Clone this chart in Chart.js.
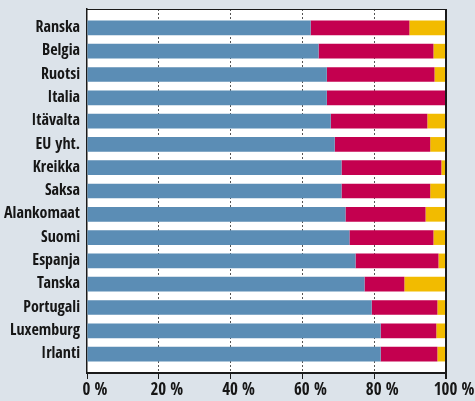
<!DOCTYPE html>
<html>
<head>
<meta charset="utf-8">
<script src="https://cdn.jsdelivr.net/npm/chart.js@4/dist/chart.umd.min.js"></script>
<style>
html,body{margin:0;padding:0;background:#dce3ea;}
#wrap{width:475px;height:401px;}
</style>
</head>
<body>
<div id="wrap"><canvas id="c" width="475" height="401"></canvas></div>
<script>
const categories = ['Ranska','Belgia','Ruotsi','Italia','Itävalta','EU yht.','Kreikka','Saksa','Alankomaat','Suomi','Espanja','Tanska','Portugali','Luxemburg','Irlanti'];
const seriesBlue   = [62.3, 64.5, 66.8, 66.8, 67.9, 69.0, 70.9, 70.9, 72.0, 73.1, 74.8, 77.3, 79.3, 81.8, 81.8];
const seriesRed    = [27.5, 32.0, 30.0, 33.2, 26.9, 26.6, 27.8, 24.7, 22.3, 23.4, 23.1, 11.1, 18.3, 15.5, 15.8];
const seriesYellow = [10.2, 3.5, 3.2, 0.0, 5.2, 4.4, 1.3, 4.4, 5.7, 3.5, 2.1, 11.6, 2.4, 2.7, 2.4];
const xTicks = [0, 20, 40, 60, 80, 100];

const FONT = "'Open Sans Condensed','Roboto Condensed',sans-serif";

function toPoints(arr){ return arr.map((v,i)=>({x:v, y:i})); }

const framePlugin = {
  id:'frame',
  beforeDraw(chart){
    const {ctx, chartArea:a} = chart;
    ctx.save();
    ctx.fillStyle = '#ffffff';
    ctx.fillRect(a.left, a.top, a.right - a.left, a.bottom - a.top);
    ctx.restore();
  },
  afterDraw(chart){
    const {ctx, chartArea:a} = chart;
    ctx.save();
    ctx.strokeStyle = '#1a1a1a';
    ctx.lineWidth = 1;
    ctx.beginPath();
    ctx.moveTo(a.left, a.top + 0.5);
    ctx.lineTo(a.right, a.top + 0.5);
    ctx.stroke();
    ctx.lineWidth = 2;
    ctx.beginPath();
    ctx.moveTo(a.right, a.top);
    ctx.lineTo(a.right, a.bottom + 6);
    ctx.stroke();
    ctx.restore();
  }
};

new Chart(document.getElementById('c'), {
  type: 'bar',
  data: {
    datasets: [
      {label:'A', data: toPoints(seriesBlue), backgroundColor:'#5b8db5'},
      {label:'B', data: toPoints(seriesRed), backgroundColor:'#c4004f'},
      {label:'C', data: toPoints(seriesYellow), backgroundColor:'#f2bb00'}
    ]
  },
  options: {
    indexAxis: 'y',
    responsive: false,
    animation: false,
    events: [],
    layout: {padding: {top: 9, right: 29, left: 0, bottom: 0}},
    datasets: {bar: {categoryPercentage: 1.0, barPercentage: 0.63, borderWidth: 0}},
    plugins: {legend: {display: false}, tooltip: {enabled: false}},
    scales: {
      x: {
        type: 'linear',
        stacked: true,
        min: 0, max: 100,
        afterBuildTicks(scale){ scale.ticks = xTicks.map(v => ({value: v})); },
        afterFit(scale){ scale.height = 28; },
        ticks: {
          callback: v => v + ' %',
          font: {family: FONT, size: 17, weight: 'bold'},
          color: '#161616',
          labelOffset: 8,
          padding: 1,
          maxRotation: 0
        },
        grid: {
          color: ctx => (ctx.tick && (ctx.tick.value === 0 || ctx.tick.value === 100)) ? 'rgba(0,0,0,0)' : '#555555',
          tickColor: '#1a1a1a',
          tickLength: 6,
          lineWidth: 1
        },
        border: {display: true, color: '#1a1a1a', width: 2, dash: [2, 2]}
      },
      y: {
        type: 'linear',
        stacked: true,
        reverse: true,
        offset: false,
        min: -0.81, max: 14.81,
        afterBuildTicks(scale){ scale.ticks = categories.map((c,i) => ({value: i})); },
        afterFit(scale){ scale.width = 87; scale.paddingTop = 0; scale.paddingBottom = 0; },
        ticks: {
          callback: v => categories[v] !== undefined ? categories[v] : '',
          font: {family: FONT, size: 16, weight: 'bold'},
          color: '#161616',
          padding: 7,
          autoSkip: false
        },
        grid: {display: false, drawTicks: false, offset: false},
        border: {display: true, color: '#1a1a1a', width: 1.5}
      }
    }
  },
  plugins: [framePlugin]
});
</script>
</body>
</html>
